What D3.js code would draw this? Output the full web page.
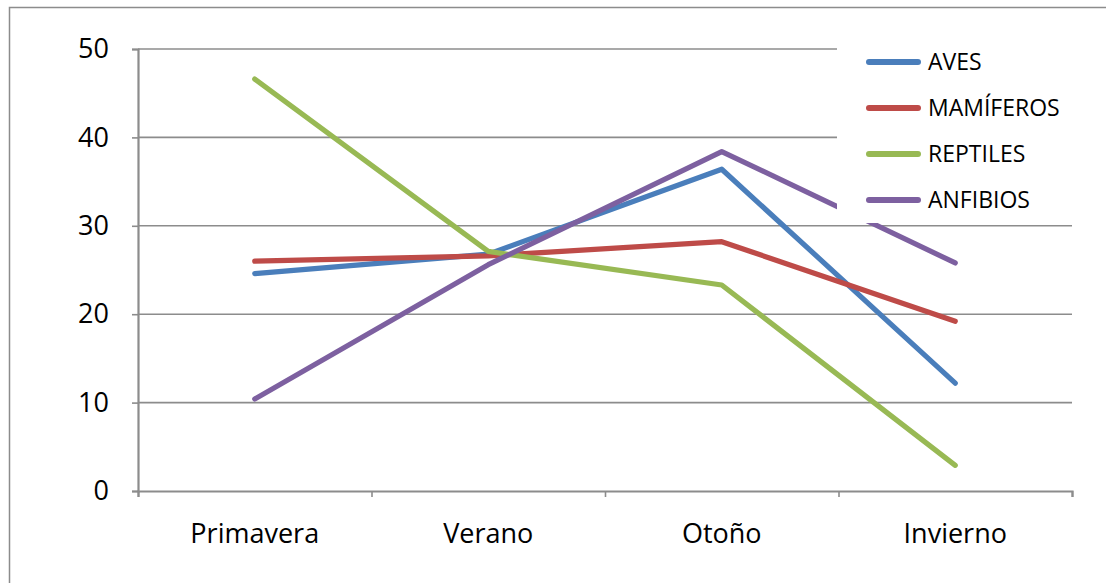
<!DOCTYPE html>
<html>
<head>
<meta charset="utf-8">
<script src="https://cdn.jsdelivr.net/npm/d3@7"></script>
<style>
  html, body { margin: 0; padding: 0; background: #ffffff; }
  svg { display: block; }
  text { font-family: "Open Sans", "DejaVu Sans", sans-serif; fill: #000; }
</style>
</head>
<body>
<svg id="chart" width="1106" height="583"></svg>
<script>
// Seasonal counts per animal group
const categories = ["Primavera", "Verano", "Otoño", "Invierno"];
const seriesNames = ["AVES", "MAMÍFEROS", "REPTILES", "ANFIBIOS"];
const aves      = [24.6, 26.8, 36.4, 12.2];
const mamiferos = [26.0, 26.6, 28.2, 19.2];
const reptiles  = [46.6, 27.1, 23.3, 2.9];
const anfibios  = [10.4, 25.6, 38.4, 25.8];
const yTicks = [0, 10, 20, 30, 40, 50];
const colors = ["#4A7EBB", "#BE4B48", "#98B954", "#7D60A0"];

const seriesValues = [aves, mamiferos, reptiles, anfibios];
const series = seriesNames.map((name, i) => ({
  name,
  color: colors[i],
  values: categories.map((c, j) => ({ cat: c, v: seriesValues[i][j] }))
}));

const svg = d3.select("#chart");
const gridColor = "#8c8c8c";

// Outer frame
svg.append("rect")
  .attr("x", 9.5).attr("y", 7.5)
  .attr("width", 1120).attr("height", 600)
  .attr("fill", "none")
  .attr("stroke", "#8c8c8c")
  .attr("stroke-width", 1.5);

const plotLeft = 138, plotRight = 1072, plotTop = 49, plotBottom = 491;

const x = d3.scaleBand().domain(categories).range([plotLeft, plotRight]).padding(0);
const y = d3.scaleLinear().domain([0, 50]).range([plotBottom, plotTop]);
const cx = c => x(c) + x.bandwidth() / 2;

// Horizontal gridlines
svg.append("g")
  .selectAll("line")
  .data(yTicks.filter(t => t > 0))
  .join("line")
  .attr("x1", plotLeft).attr("x2", plotRight)
  .attr("y1", d => y(d)).attr("y2", d => y(d))
  .attr("stroke", gridColor)
  .attr("stroke-width", 1.6);

// Y axis
const yAxis = svg.append("g")
  .attr("transform", `translate(${plotLeft},0)`)
  .call(d3.axisLeft(y).tickValues(yTicks).tickSize(6).tickPadding(23).tickFormat(d3.format("d")));
yAxis.select(".domain").attr("stroke", gridColor).attr("stroke-width", 2.2);
yAxis.selectAll(".tick line").attr("stroke", gridColor).attr("stroke-width", 1.6);
yAxis.selectAll(".tick text")
  .style("font-family", "'Open Sans', sans-serif")
  .style("font-size", "27px")
  .attr("fill", "#000");

// X axis: ticks at category boundaries, labels at band centres
const xBound = d3.scaleLinear().domain([0, categories.length]).range([plotLeft, plotRight]);
const xAxis = svg.append("g")
  .attr("transform", `translate(0,${plotBottom})`)
  .call(d3.axisBottom(xBound).tickValues(d3.range(categories.length + 1)).tickSize(6).tickFormat(""));
xAxis.select(".domain").attr("stroke", gridColor).attr("stroke-width", 2.2);
xAxis.selectAll(".tick line").attr("stroke", gridColor).attr("stroke-width", 1.6);

svg.append("g")
  .selectAll("text")
  .data(categories)
  .join("text")
  .attr("x", d => cx(d))
  .attr("y", 543)
  .attr("text-anchor", "middle")
  .style("font-size", "27px")
  .text(d => d);

// Series lines
const line = d3.line().x(d => cx(d.cat)).y(d => y(d.v));
svg.append("g")
  .selectAll("path")
  .data(series)
  .join("path")
  .attr("d", d => line(d.values))
  .attr("fill", "none")
  .attr("stroke", d => d.color)
  .attr("stroke-width", 5.2)
  .attr("stroke-linejoin", "round")
  .attr("stroke-linecap", "round");

// Legend with white backing
const legend = svg.append("g");
legend.append("rect")
  .attr("x", 837).attr("y", 40)
  .attr("width", 258).attr("height", 183)
  .attr("fill", "#ffffff");

const legendRows = d3.scalePoint().domain(seriesNames).range([62, 200]);
const items = legend.selectAll("g.item")
  .data(series)
  .join("g")
  .attr("class", "item")
  .attr("transform", d => `translate(0,${legendRows(d.name)})`);
items.append("line")
  .attr("x1", 869).attr("x2", 918)
  .attr("y1", 0).attr("y2", 0)
  .attr("stroke", d => d.color)
  .attr("stroke-width", 6)
  .attr("stroke-linecap", "round");
items.append("text")
  .attr("x", 928)
  .attr("y", 0)
  .attr("dy", "0.36em")
  .style("font-size", "23px")
  .text(d => d.name);
</script>
</body>
</html>
